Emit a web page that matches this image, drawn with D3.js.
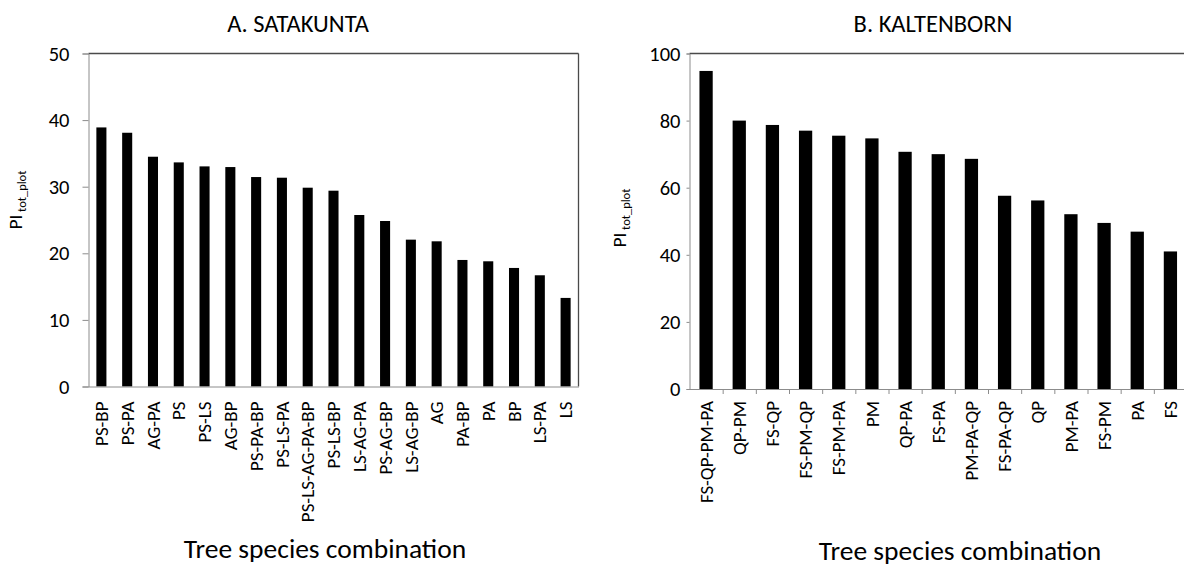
<!DOCTYPE html>
<html>
<head>
<meta charset="utf-8">
<script src="https://cdn.jsdelivr.net/npm/d3@7"></script>
<style>
  body { margin: 0; background: #fff; }
  svg { font-family: Calibri, Carlito, Lato, sans-serif; }
  .tick text { fill: #000; }
</style>
</head>
<body>
<svg width="1184" height="569"></svg>
<script>
// **** chart values ****
var satakuntaNames = ['PS-BP', 'PS-PA', 'AG-PA', 'PS', 'PS-LS', 'AG-BP', 'PS-PA-BP', 'PS-LS-PA',
    'PS-LS-AG-PA-BP', 'PS-LS-BP', 'LS-AG-PA', 'PS-AG-BP', 'LS-AG-BP', 'AG', 'PA-BP', 'PA', 'BP', 'LS-PA', 'LS'];
var satakuntaValues = [38.9, 38.1, 34.5, 33.65, 33.05, 32.95, 31.45, 31.35, 29.85, 29.4,
    25.75, 24.85, 22.05, 21.8, 19.0, 18.8, 17.8, 16.7, 13.3];
var satakuntaTicks = [0, 10, 20, 30, 40, 50];

var kaltenbornNames = ['FS-QP-PM-PA', 'QP-PM', 'FS-QP', 'FS-PM-QP', 'FS-PM-PA', 'PM', 'QP-PA', 'FS-PA',
    'PM-PA-QP', 'FS-PA-QP', 'QP', 'PM-PA', 'FS-PM', 'PA', 'FS'];
var kaltenbornValues = [94.8, 80.0, 78.7, 77.0, 75.5, 74.7, 70.7, 70.0, 68.6, 57.6,
    56.2, 52.1, 49.5, 46.9, 41.0];
var kaltenbornTicks = [0, 20, 40, 60, 80, 100];

var svg = d3.select('svg');

let drawPanel = opts => {
    var data = opts.names.map((n, i) => ({name: n, value: opts.values[i]}));
    var g = svg.append('g');

    var xScale = d3.scaleBand()
        .domain(opts.names)
        .range([opts.left, opts.right])
        .paddingInner(opts.pad)
        .paddingOuter(opts.pad / 2);

    var yScale = d3.scaleLinear()
        .domain([0, opts.ticks[opts.ticks.length - 1]])
        .range([opts.bottom, opts.top]);

    // top / right frame
    g.append('line')
        .attr('x1', opts.left).attr('x2', opts.frameRight)
        .attr('y1', opts.top).attr('y2', opts.top)
        .attr('stroke', '#4a4a4a').attr('stroke-width', 1.3);
    if (opts.rightBorder) {
        g.append('line')
            .attr('x1', opts.right).attr('x2', opts.right)
            .attr('y1', opts.top).attr('y2', opts.bottom)
            .attr('stroke', '#4a4a4a').attr('stroke-width', 1.3);
    }

    g.append('g')
        .selectAll('rect')
        .data(data)
        .enter()
        .append('rect')
            .attr('x', d => xScale(d.name))
            .attr('width', xScale.bandwidth())
            .attr('y', d => yScale(d.value))
            .attr('height', d => yScale(0) - yScale(d.value))
            .attr('fill', '#000');

    var yAxis = d3.axisLeft(yScale)
        .tickValues(opts.ticks)
        .tickSize(opts.tickLen)
        .tickPadding(opts.tickPad);
    var ya = g.append('g')
        .attr('transform', 'translate(' + opts.left + ',0)')
        .call(yAxis)
        .attr('font-family', null)
        .attr('font-size', opts.tickFont);
    ya.selectAll('path, line').attr('stroke', '#8c8c8c');

    // category labels
    var xAxis = d3.axisBottom(xScale).tickSize(0).tickPadding(0);
    var xa = g.append('g')
        .attr('transform', 'translate(0,' + opts.bottom + ')')
        .call(xAxis)
        .attr('font-family', null)
        .attr('font-size', opts.catFont);
    xa.select('.domain').remove();
    xa.selectAll('text')
        .attr('text-anchor', 'end')
        .attr('transform', 'translate(0,' + opts.catGap + ') rotate(-90)')
        .attr('x', 0).attr('y', 0).attr('dy', '0.35em');

    // baseline with optional boundary ticks
    var idx = d3.scaleLinear().domain([0, opts.names.length]).range([opts.left, opts.right]);
    var base = g.append('g')
        .attr('transform', 'translate(0,' + opts.bottom + ')')
        .call(d3.axisBottom(idx)
            .tickValues(opts.boundaryTicks ? d3.range(1, opts.names.length + 1) : [])
            .tickFormat('')
            .tickSize(opts.boundaryTicks ? 5 : 0)
            .tickSizeOuter(0));
    base.selectAll('path, line').attr('stroke', '#8c8c8c');

    svg.append('text')
        .attr('x', opts.titleX).attr('y', 32)
        .attr('text-anchor', 'middle')
        .attr('font-size', 24.5)
        .text(opts.title);

    svg.append('text')
        .attr('x', opts.xTitleX).attr('y', opts.xTitleY)
        .attr('text-anchor', 'middle')
        .attr('font-size', 27.5)
        .text('Tree species combination');

    var yl = svg.append('text')
        .attr('transform', 'translate(' + opts.yLabelX + ',' + opts.yLabelY + ') rotate(-90)')
        .attr('text-anchor', 'middle')
        .attr('font-size', 19);
    yl.append('tspan').text('PI');
    yl.append('tspan').attr('font-size', 12.5).attr('dy', 4).text(' tot_plot');
};

drawPanel({
    names: satakuntaNames, values: satakuntaValues, ticks: satakuntaTicks,
    left: 88.5, right: 578.5, frameRight: 578.5, top: 53.5, bottom: 386.5,
    pad: 0.61, rightBorder: true, boundaryTicks: false,
    tickLen: 6, tickPad: 13, tickFont: 20.5, catFont: 19, catGap: 15,
    title: 'A. SATAKUNTA', titleX: 298, xTitleX: 325, xTitleY: 558,
    yLabelX: 22, yLabelY: 200
});

drawPanel({
    names: kaltenbornNames, values: kaltenbornValues, ticks: kaltenbornTicks,
    left: 689.5, right: 1187, frameRight: 1184, top: 53.5, bottom: 389,
    pad: 0.6, rightBorder: false, boundaryTicks: true,
    tickLen: 3, tickPad: 6, tickFont: 20.5, catFont: 19, catGap: 12,
    title: 'B. KALTENBORN', titleX: 933, xTitleX: 960, xTitleY: 560,
    yLabelX: 626, yLabelY: 218
});
</script>
</body>
</html>
